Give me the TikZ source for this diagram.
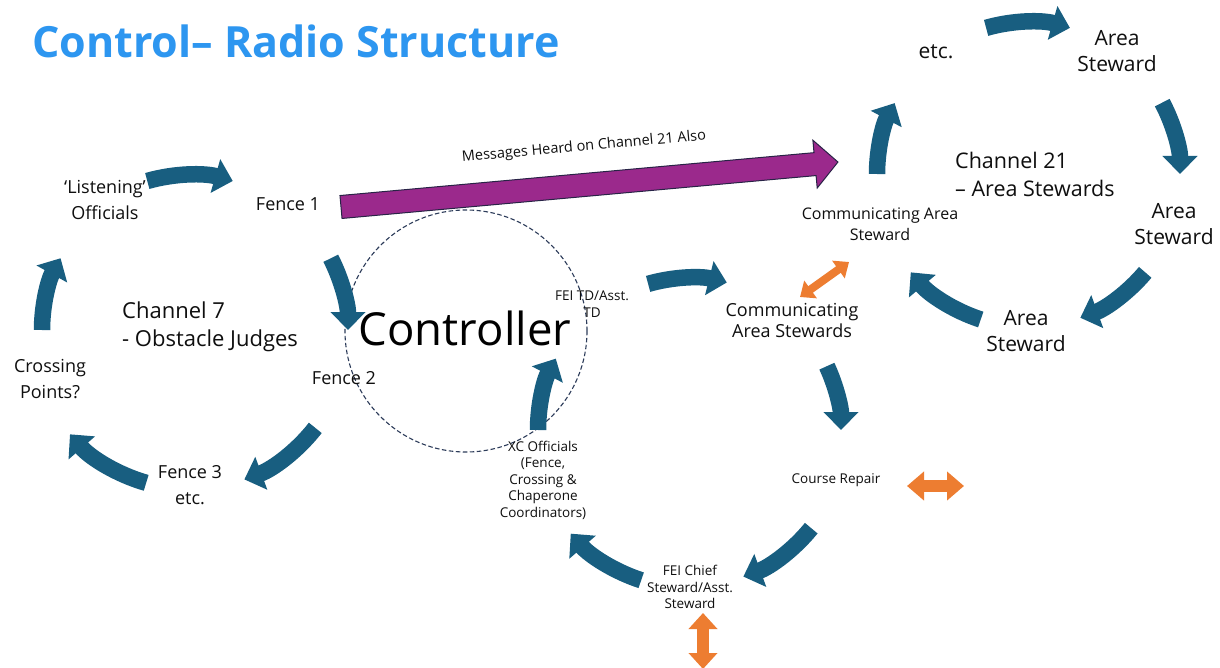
\documentclass[tikz,border=0pt]{standalone}
\usepackage{fontspec}
\setmainfont{Open Sans}
\usetikzlibrary{arrows.meta}
\definecolor{cycblue}{RGB}{24,94,128}
\definecolor{titleblue}{RGB}{45,150,240}
\definecolor{purp}{RGB}{155,41,140}
\definecolor{purpedge}{RGB}{40,35,70}
\definecolor{orng}{RGB}{237,125,49}
\definecolor{dashc}{RGB}{45,60,90}
\definecolor{txt}{RGB}{15,15,15}
\newcommand\cycarc[5]{\draw[cycarrow] (#1) ++(#4:#3) arc[start angle=#4, end angle=#5, radius=#3];}
\begin{document}
\begin{tikzpicture}[x=1pt,y=1pt,
  cycarrow/.style={draw=cycblue, line width=16.5pt, -{Triangle[length=18pt,width=34pt]}},
  lbl/.style={text=txt, align=center, inner sep=0pt},
  big/.style={lbl, font=\fontsize{21}{26}\selectfont},
  mid/.style={lbl, font=\fontsize{18}{26}\selectfont},
  sml/.style={lbl, font=\fontsize{13.5}{16.5}\selectfont}
]
\useasboundingbox (0,0) rectangle (1220,-668);
\fill[white] (0,0) rectangle (1220,-668);

% title
\node[anchor=base west, inner sep=0pt, text=titleblue, font=\fontsize{43}{50}\selectfont\bfseries] (title) at (32,-58) {Control– Radio Structure};

% cycle centres
\coordinate (c7) at (190,-330);
\coordinate (c21) at (1028,-174);
\coordinate (cb) at (690,-430);

% dashed controller circle
\node[draw=dashc, dash pattern=on 4.5pt off 2.5pt, line width=1.1pt, circle, minimum size=242pt, inner sep=0pt] (ctrlcirc) at (466,-331) {};
\node[lbl, font=\fontsize{45.5}{50}\selectfont, text=black] (controller) at (465,-328) {Controller};

% left cycle (Channel 7)
\cycarc{c7}{}{155}{106}{74}
\cycarc{c7}{}{158}{27}{0}
\cycarc{c7}{}{159}{-38}{-70}
\cycarc{c7}{}{159}{-106}{-139}
\cycarc{c7}{}{148}{-180}{-209}

\node[mid] (listen) at (105,-200) {‘Listening’\\Officials};
\node[mid] (fence1) at (288,-204) {Fence 1};
\node[mid] (fence2) at (344,-378) {Fence 2};
\node[mid] (fence3) at (190,-485) {Fence 3\\etc.};
\node[mid] (crossing) at (50,-379) {Crossing\\Points?};
\node[big, anchor=west, align=left, font=\fontsize{22}{28}\selectfont] (ch7) at (122,-327) {Channel 7\\- Obstacle Judges};

% right cycle (Channel 21)
\cycarc{c21}{}{152}{106}{74}
\cycarc{c21}{}{152}{28}{0}
\cycarc{c21}{}{153}{-40}{-70}
\cycarc{c21}{}{153}{-108}{-140}
\cycarc{c21}{}{151}{-180}{-208}

\node[big] (etc) at (936,-52) {etc.};
\node[big] (as1) at (1117,-51) {Area\\Steward};
\node[big] (as2) at (1174,-224) {Area\\Steward};
\node[big] (as3) at (1026,-331) {Area\\Steward};
\node[lbl, font=\fontsize{16}{21}\selectfont] (cas) at (880,-224) {Communicating Area\\Steward};
\node[big, anchor=west, align=left, font=\fontsize{21.5}{28}\selectfont] (ch21) at (955,-174) {Channel 21\\– Area Stewards};

% bottom cycle
\cycarc{cb}{}{152}{106}{76}
\cycarc{cb}{}{151}{25}{0}
\cycarc{cb}{}{156}{-39}{-70}
\cycarc{cb}{}{158}{-108}{-139}
\cycarc{cb}{}{152}{-180}{-208}

\node[sml, font=\fontsize{13.5}{17}\selectfont] (feitd) at (592,-304) {FEI TD/Asst.\\TD};
\node[lbl, font=\fontsize{18}{21}\selectfont] (comm) at (792,-320) {Communicating\\Area Stewards};
\node[sml, font=\fontsize{13.5}{16}\selectfont] (course) at (836,-480) {Course Repair};
\node[sml] (chief) at (690,-587) {FEI Chief\\Steward/Asst.\\Steward};
\node[sml] (xc) at (543,-480) {XC Officials\\(Fence,\\Crossing \&\\Chaperone\\Coordinators)};

% purple block arrow
\coordinate (pstart) at (341,-207);
\coordinate (pend) at (838,-162);
\begin{scope}[shift={(pstart)}, rotate=5.17]
  \draw[fill=purp, draw=purpedge, line width=1pt, line join=miter]
    (0,-11.5) -- (476,-11.5) -- (476,-24) -- (499,0) -- (476,24) -- (476,11.5) -- (0,11.5) -- cycle;
\end{scope}
\node[lbl, rotate=5.17, font=\fontsize{14.5}{16}\selectfont] (msg) at (584,-147) {Messages Heard on Channel 21 Also};

% orange double arrows
\coordinate (o1a) at (800,-297);
\coordinate (o1b) at (849,-262);
\draw[orng, line width=8pt, {Triangle[length=13pt,width=21pt]}-{Triangle[length=13pt,width=21pt]}] (o1a) -- (o1b);
\coordinate (o2a) at (907,-486);
\coordinate (o2b) at (964,-486);
\draw[orng, line width=12pt, {Triangle[length=17pt,width=28pt]}-{Triangle[length=17pt,width=28pt]}] (o2a) -- (o2b);
\coordinate (o3a) at (703,-613);
\coordinate (o3b) at (703,-669);
\draw[orng, line width=12pt, {Triangle[length=16pt,width=28pt]}-{Triangle[length=16pt,width=28pt]}] (o3a) -- (o3b);
\end{tikzpicture}
\end{document}
